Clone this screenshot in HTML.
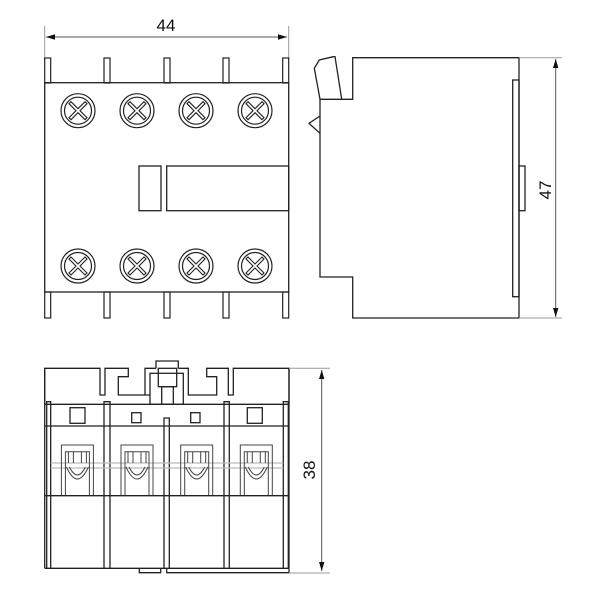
<!DOCTYPE html>
<html><head><style>body{margin:0;background:#fff}svg{display:block}</style></head><body>
<svg width="600" height="600" viewBox="0 0 600 600" xmlns="http://www.w3.org/2000/svg" font-family="Liberation Sans, sans-serif">
<defs>
<g id="scr"><circle r="17" fill="#fff" stroke="#222" stroke-width="1.2"/><circle r="13.5" fill="none" stroke="#222" stroke-width="1.2"/>
<path d="M-7,-9 L0,-2 L7,-9 L9,-7 L2,0 L9,7 L7,9 L0,2 L-7,9 L-9,7 L-2,0 L-9,-7 Z" fill="none" stroke="#222" stroke-width="1.1"/></g>
<g id="term" fill="none" stroke="#444" stroke-width="1">
<path d="M-16,70 L-16,20 L16,20 L16,70"/><path d="M-12,70 L-12,26.7 L12,26.7 L12,70"/>
<path d="M-9,26.7 V38 M-4,26.7 V38 M4,26.7 V38 M9,26.7 V38"/>
<path d="M-11,42 Q0,66 11,42"/><path d="M-8,42 Q0,58 8,42"/>
</g>
<marker id="ar" viewBox="0 0 10 10" refX="10" refY="5" markerWidth="9" markerHeight="9" orient="auto-start-reverse"><path d="M0,2 L10,5 L0,8 Z" fill="#111"/></marker>
</defs>
<g fill="none" stroke="#222" stroke-width="1.3">
<!-- front view -->
<line x1="44.7" y1="26" x2="44.7" y2="60" stroke="#999" stroke-width="1"/>
<line x1="288.7" y1="26" x2="288.7" y2="60" stroke="#999" stroke-width="1"/>
<line x1="46" y1="37" x2="287" y2="37" stroke="#555" stroke-width="1" marker-start="url(#ar)" marker-end="url(#ar)"/>
<rect x="44.7" y="82.7" width="244" height="209.3"/>
<g stroke-width="1.2">
<rect x="44.7" y="58" width="6" height="25"/><rect x="104" y="58" width="6" height="25"/><rect x="164" y="58" width="6" height="25"/><rect x="223" y="58" width="6" height="25"/><rect x="282.7" y="58" width="6" height="25"/>
<rect x="44.7" y="292" width="6" height="26"/><rect x="104" y="292" width="6" height="26"/><rect x="164" y="292" width="6" height="26"/><rect x="223" y="292" width="6" height="26"/><rect x="282.7" y="292" width="6" height="26"/>
</g>
<rect x="139" y="166" width="22" height="44.7"/>
<rect x="166.7" y="166" width="122" height="44.7"/>
</g>
<use href="#scr" x="78" y="110.7"/><use href="#scr" x="137" y="110.7"/><use href="#scr" x="196" y="110.7"/><use href="#scr" x="255" y="110.7"/>
<use href="#scr" x="78" y="266"/><use href="#scr" x="137" y="266"/><use href="#scr" x="196" y="266"/><use href="#scr" x="255" y="266"/>
<text x="166" y="31" font-size="17" text-anchor="middle" fill="#111">44</text>

<!-- side view -->
<g fill="none" stroke="#222" stroke-width="1.3">
<path d="M352.7,57.7 H519 V318 H352.7 V277 H320 V99.3 H352.7 Z"/>
<path d="M320,99.3 L314.3,68.3 L319.3,60 L333.3,56.7 L335,56.7 L341.7,99.3"/>
<path d="M320,116 L309,123.3 L320,133.3"/>
<rect x="512.7" y="80" width="6.3" height="216.7"/>
<rect x="519" y="166" width="6" height="44.7"/>
<line x1="519" y1="57.7" x2="562" y2="57.7" stroke="#999" stroke-width="1"/>
<line x1="519" y1="318" x2="562" y2="318" stroke="#999" stroke-width="1"/>
<line x1="555.7" y1="59" x2="555.7" y2="317" stroke="#555" stroke-width="1" marker-start="url(#ar)" marker-end="url(#ar)"/>
</g>
<text transform="translate(551,190) rotate(-90)" font-size="17" text-anchor="middle" fill="#111">47</text>

<!-- bottom view -->
<g fill="none" stroke="#222" stroke-width="1.3">
<path d="M44.7,404.3 V368.3 H100 V395 H105 V368.3 H128.3 V376.7 H118.3 V395 H150 M145,395 V368.3 H156 M178.3,368.3 H188.3 V395 H216.7 V376.7 H206.7 V368.3 H228.3 V395 H233.3 V368.3 H289 V404.3"/>
<path d="M156,368.3 V361 H178.3 V368.3"/>
<rect x="150" y="373.3" width="33.3" height="31"/>
<rect x="158.3" y="368.3" width="18.4" height="18.4"/>
<rect x="161.7" y="386.7" width="11.6" height="17.6"/>
<line x1="44.7" y1="404.3" x2="289" y2="404.3"/>
<line x1="44.7" y1="426" x2="289" y2="426"/>
<line x1="44.7" y1="495.7" x2="289" y2="495.7"/>
<line x1="44.7" y1="568.3" x2="289" y2="568.3"/>
<path d="M46.7,568.3 V401.7 H50.7 V568.3"/>
<path d="M104,568.3 V401.7 H110 V568.3"/>
<path d="M164,568.3 V418 H169.3 V568.3"/>
<path d="M224,568.3 V401.7 H229.3 V568.3"/>
<path d="M283.3,568.3 V401.7 H288.3 V568.3"/>
<line x1="44.7" y1="368.3" x2="44.7" y2="568.3"/>
<line x1="289" y1="368.3" x2="289" y2="568.3"/>
<rect x="70" y="407.7" width="15" height="15.6"/>
<rect x="131.7" y="412.7" width="9.3" height="10"/>
<rect x="190.7" y="412.7" width="9.3" height="10"/>
<rect x="247.3" y="407.7" width="15" height="15.6"/>
<path d="M139.3,568.3 V572.7 H160.7 V568.3"/>
<path d="M166.7,568.3 V572.7 H289 V568.3"/>
</g>
<g stroke="#bbb" stroke-width="1.2" fill="none"><line x1="50.7" y1="463" x2="283.3" y2="463"/><line x1="50.7" y1="468" x2="283.3" y2="468"/></g>
<use href="#term" x="77.4" y="425"/><use href="#term" x="137" y="425"/><use href="#term" x="196.7" y="425"/><use href="#term" x="256.3" y="425"/>
<line x1="289" y1="368.3" x2="330" y2="368.3" stroke="#999" stroke-width="1"/>
<line x1="289" y1="573" x2="330" y2="573" stroke="#999" stroke-width="1"/>
<line x1="321.7" y1="370" x2="321.7" y2="571" stroke="#555" stroke-width="1" marker-start="url(#ar)" marker-end="url(#ar)"/>
<text transform="translate(315,470) rotate(-90)" font-size="17" text-anchor="middle" fill="#111">38</text>
</svg>
</body></html>
